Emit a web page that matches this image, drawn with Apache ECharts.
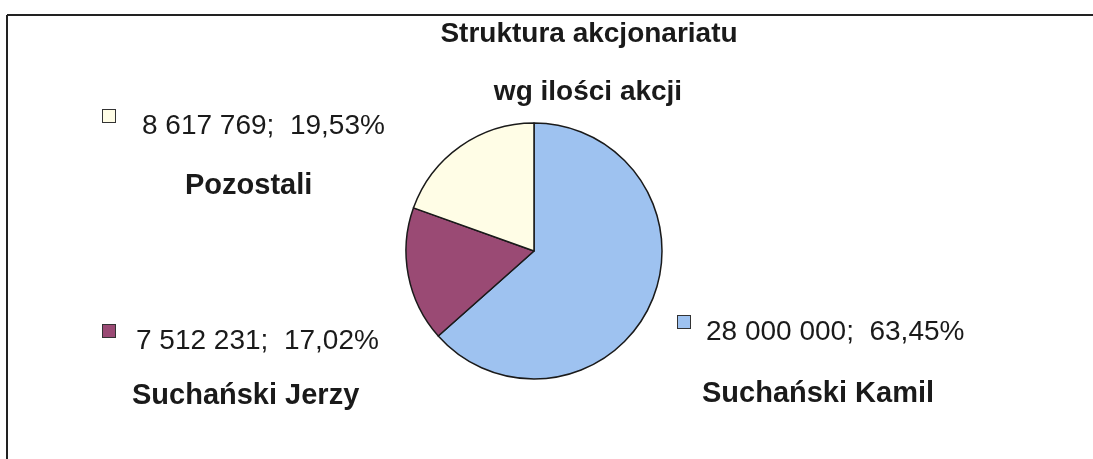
<!DOCTYPE html>
<html>
<head>
<meta charset="utf-8">
<title>Struktura akcjonariatu</title>
<script src="https://cdn.jsdelivr.net/npm/echarts@6/dist/echarts.min.js"></script>
<style>
  html, body { margin: 0; padding: 0; background: #fff; }
  #chart { width: 1093px; height: 459px; }
</style>
</head>
<body>
<div id="chart"></div>
<script>
// dane
const names = ['Suchański Kamil', 'Suchański Jerzy', 'Pozostali'];
const shares = [28000000, 7512231, 8617769];
const colors = ['#9ec2f0', '#9a4a74', '#fffde6'];

// lewy-górny róg etykiet (znacznik + wartość + nazwa)
const labelPos = [[678, 316], [103, 325], [103, 110]];
// przesunięcie nazwy: [od lewej krawędzi etykiety, wysokość linii]
const nameShift = [[24, 92], [29, 78], [82, 88]];

const font = 'Liberation Sans, Arial, sans-serif';

function fmtNum(n) {
  return String(n).replace(/\B(?=(\d{3})+(?!\d))/g, ' ');
}

let chart = echarts.init(document.getElementById('chart'));

let rich = {
  v: { fontSize: 28, fontFamily: font, color: '#1a1a1a', lineHeight: 32 }
};
colors.forEach((c, i) => {
  rich['k' + i] = {
    width: 12, height: 12, backgroundColor: c,
    borderColor: '#333', borderWidth: 1, verticalAlign: 'top'
  };
  rich['g' + i] = { width: [16, 21, 27][i] };
  rich['n' + i] = {
    fontSize: 29, fontFamily: font, fontWeight: 'bold', color: '#1a1a1a',
    lineHeight: nameShift[i][1], align: 'left', padding: [0, 0, 0, nameShift[i][0]]
  };
});

const titleStyle = { fontFamily: font, fontSize: 28, fontWeight: 'bold', color: '#1a1a1a' };

const option = {
  animation: false,
  backgroundColor: '#fff',
  title: [
    { text: 'Struktura akcjonariatu', left: 584, top: 15, textAlign: 'center', textStyle: titleStyle },
    { text: 'wg ilości akcji', left: 583, top: 73, textAlign: 'center', textStyle: titleStyle }
  ],
  graphic: [
    { type: 'line', shape: { x1: 7, y1: 15, x2: 1093, y2: 15 }, style: { stroke: '#222', lineWidth: 2 } },
    { type: 'line', shape: { x1: 7, y1: 15, x2: 7, y2: 459 }, style: { stroke: '#222', lineWidth: 2 } }
  ],
  series: [
    {
      type: 'pie',
      center: [534, 251],
      radius: 128,
      startAngle: 90,
      clockwise: true,
      avoidLabelOverlap: false,
      itemStyle: { borderColor: '#1a1a1a', borderWidth: 1.5 },
      emphasis: { disabled: true },
      label: {
        show: true,
        position: 'outside',
        formatter: (p) => {
          let i = p.dataIndex;
          return '{k' + i + '|}{g' + i + '|}{v|' + fmtNum(p.value) + ';  ' +
            p.percent.toFixed(2).replace('.', ',') + '%}\n{n' + i + '|' + p.name + '}';
        },
        rich: rich
      },
      labelLine: { show: false },
      labelLayout: (params) => ({
        x: labelPos[params.dataIndex][0],
        y: labelPos[params.dataIndex][1],
        align: 'left',
        verticalAlign: 'top'
      }),
      data: names.map((n, i) => ({ name: n, value: shares[i], itemStyle: { color: colors[i] } }))
    }
  ]
};
chart.setOption(option);
</script>
</body>
</html>
